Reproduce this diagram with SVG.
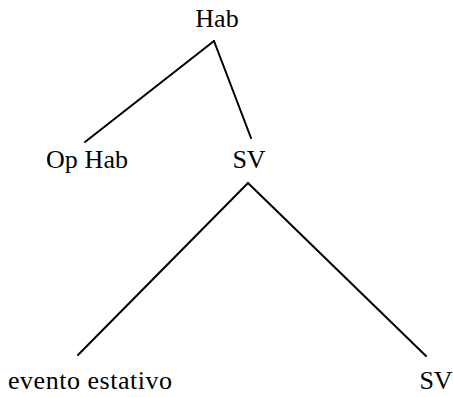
<svg xmlns="http://www.w3.org/2000/svg" width="453" height="397" viewBox="0 0 453 397">
<style>
text{font-family:"Liberation Serif","Times New Roman",serif;font-size:26px;fill:#000}
.e line{stroke:#000;stroke-width:2;stroke-linecap:round}
</style>
<rect width="453" height="397" fill="#fff"/>
<g class="e" id="connectors">
<line x1="214" y1="41" x2="85" y2="142"/>
<line x1="214" y1="41" x2="251" y2="138"/>
<line x1="248" y1="183" x2="78" y2="355"/>
<line x1="248" y1="183" x2="426" y2="356"/>
</g>
<g id="hab"><text x="217" y="27" text-anchor="middle" font-size="27">Hab</text></g>
<g id="ophab"><text x="46" y="168" textLength="82" lengthAdjust="spacing">Op Hab</text></g>
<g id="sv1"><text x="249" y="168" text-anchor="middle">SV</text></g>
<g id="evento"><text x="8" y="389" textLength="164" lengthAdjust="spacing">evento estativo</text></g>
<g id="sv2"><text x="436" y="389" text-anchor="middle">SV</text></g>
</svg>
